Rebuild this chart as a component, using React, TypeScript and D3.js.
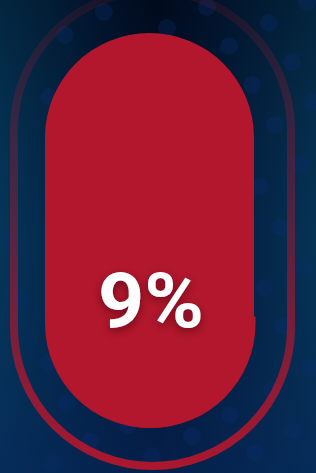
import { useMemo } from "react";
import * as d3 from "d3";

const W = 316;
const H = 473;

const gaugeValue = [9];
const gaugeLabel = ["9%"];
// decorative background dots [x, y]
const dotX = [104, 207, 167, 65, 229, 269, 292, 252, 49, 312, 275, 307, 260, 280, 303, 265, 300, 48, 67, 90, 52, 152, 192, 230, 255, 293, 310, 272, 128, 283, 20, 10];
const dotY = [12, 7, 28, 35, 46, 23, 62, 85, 97, 102, 125, 2, 187, 227, 267, 288, 165, 363, 403, 441, 463, 456, 436, 415, 453, 431, 368, 390, 425, 326, 300, 240];

const pill = (x0: number, y0: number, w: number, h: number) => {
  const r = w / 2;
  const cx = x0 + r;
  const p = d3.path();
  p.moveTo(x0, y0 + r);
  p.arc(cx, y0 + r, r, Math.PI, 0);
  p.lineTo(x0 + w, y0 + h - r);
  p.arc(cx, y0 + h - r, r, 0, Math.PI);
  p.closePath();
  return p.toString();
};

const App = () => {
  const outer = useMemo(() => pill(14, -9, 277, 475), []);
  const inner = useMemo(() => pill(45, 33, 209, 395), []);
  const innerLow = useMemo(() => pill(46.5, 33, 209, 395), []);

  // fill level scale (value shown as label)
  const y = d3.scaleLinear().domain([0, 100]).range([428, 33]);
  const level = y(gaugeValue[0]);

  return (
    <div style={{ position: "absolute", left: 0, top: 0 }}>
      <svg width={W} height={H} style={{ display: "block" }}>
        <defs>
          <linearGradient id="bgH" x1="0" x2="1" y1="0" y2="0">
            <stop offset="0%" stopColor="#053a5c" />
            <stop offset="30%" stopColor="#031b3a" />
            <stop offset="50%" stopColor="#020c22" />
            <stop offset="70%" stopColor="#031b3a" />
            <stop offset="100%" stopColor="#063656" />
          </linearGradient>
          <linearGradient id="bgV" x1="0" x2="0" y1="0" y2="1">
            <stop offset="0%" stopColor="#000814" stopOpacity={0.4} />
            <stop offset="50%" stopColor="#05264f" stopOpacity={0.2} />
            <stop offset="100%" stopColor="#06285a" stopOpacity={0.7} />
          </linearGradient>
          <linearGradient id="ring" x1="0" x2="0" y1="0" y2="1">
            <stop offset="0%" stopColor="#b3172d" stopOpacity={0.12} />
            <stop offset="45%" stopColor="#b3172d" stopOpacity={0.4} />
            <stop offset="100%" stopColor="#b3172d" stopOpacity={0.95} />
          </linearGradient>
          <clipPath id="lowClip">
            <rect x={0} y={level - 76} width={W} height={H} />
          </clipPath>
          <filter id="shadow" x="-30%" y="-30%" width="160%" height="160%">
            <feDropShadow dx="0" dy="3" stdDeviation="5" floodColor="#3a0008" floodOpacity={0.6} />
          </filter>
        </defs>
        <rect width={W} height={H} fill="url(#bgH)" />
        <rect width={W} height={H} fill="url(#bgV)" />
        {dotX.map((dx, i) => (
          <circle key={i} cx={dx} cy={dotY[i]} r={9} fill="#0a3070" opacity={0.3} />
        ))}
        <path d={outer} fill="none" stroke="url(#ring)" strokeWidth={8} />
        <path d={inner} fill="#b3172d" />
        <path d={innerLow} fill="#b3172d" clipPath="url(#lowClip)" />
        <text
          x={151}
          y={327}
          textAnchor="middle"
          fill="#ffffff"
          fontFamily="Roboto, sans-serif"
          fontWeight={700}
          fontSize={76}
          textLength={106}
          lengthAdjust="spacingAndGlyphs"
          filter="url(#shadow)"
        >
          {gaugeLabel[0]}
        </text>
      </svg>
    </div>
  );
};

export default App;
